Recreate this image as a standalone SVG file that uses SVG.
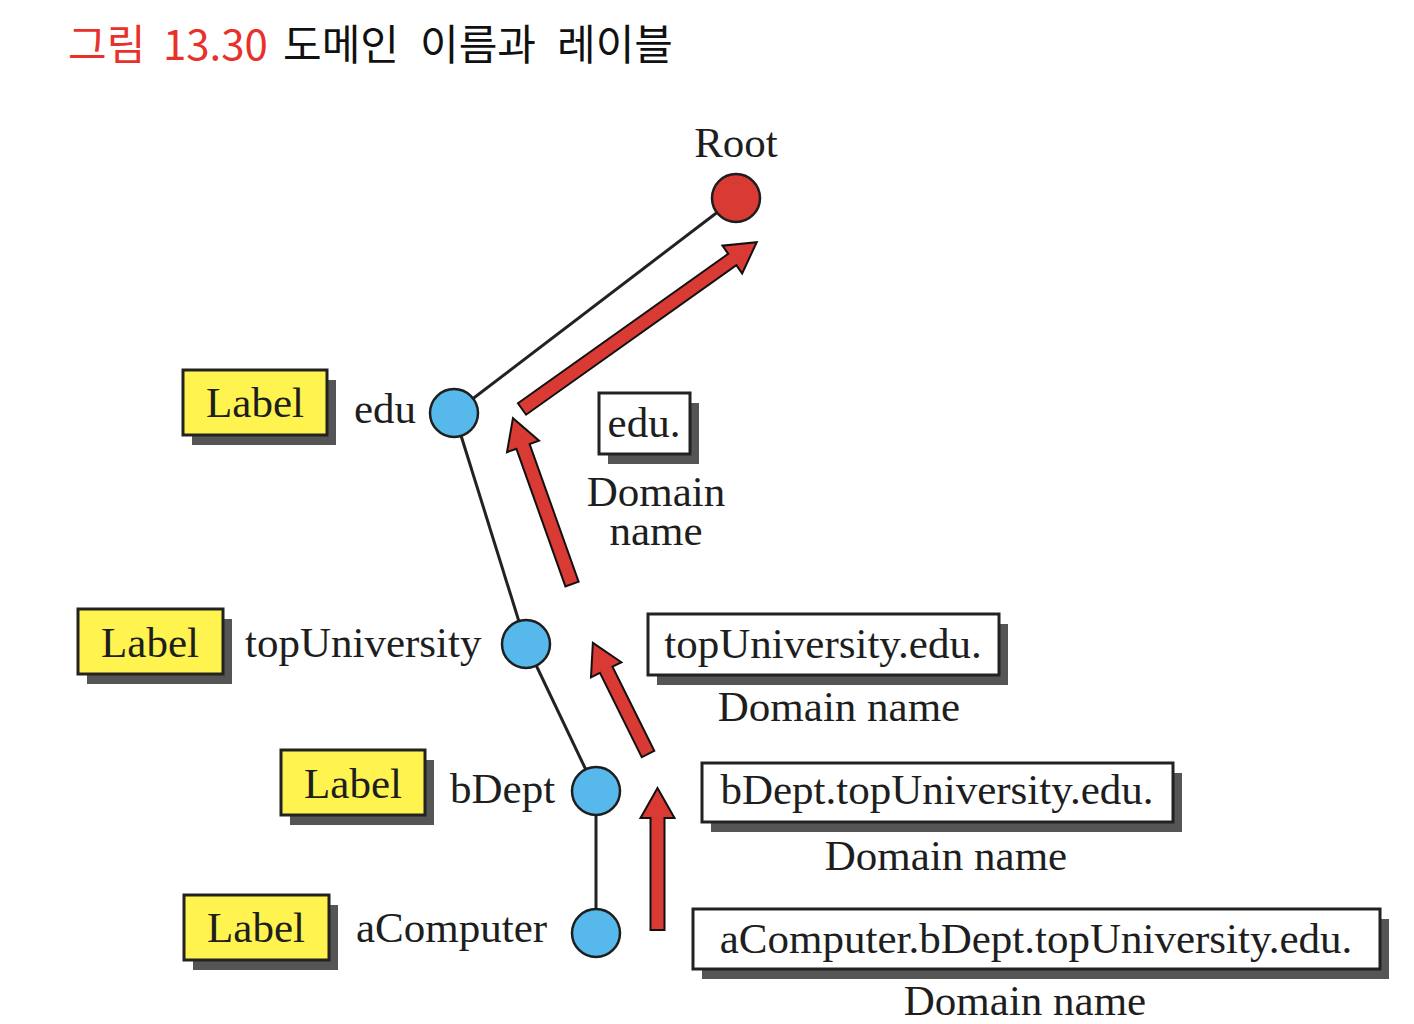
<svg xmlns="http://www.w3.org/2000/svg" width="1414" height="1024" viewBox="0 0 1414 1024">
<style>
.t{font-family:"Liberation Serif","Times New Roman",serif;font-size:43px;fill:#1e1e1e}
.m{text-anchor:middle}
.title{font-family:"Noto Sans CJK KR","Noto Sans",sans-serif;font-size:42px}
.edge{stroke:#222;stroke-width:3;fill:none}
.node{fill:#56b8eb;stroke:#1e1e1e;stroke-width:2.5}
.root{fill:#d93a34;stroke:#1e1e1e;stroke-width:2.5}
.arrow{fill:#d93a34;stroke:#111;stroke-width:2;stroke-linejoin:miter}
.sh{fill:#555}
.yb{fill:#fff44f;stroke:#222;stroke-width:3}
.wb{fill:#fff;stroke:#222;stroke-width:3}
</style>
<rect width="1414" height="1024" fill="#fff"/>
<g id="title">
<text class="title" x="68" y="60" fill="#e8312a">그림</text>
<text class="title" x="163" y="60" fill="#e8312a">13.30</text>
<text class="title" x="283" y="60" fill="#111">도메인</text>
<text class="title" x="420" y="60" fill="#111">이름과</text>
<text class="title" x="557" y="60" fill="#111">레이블</text>
</g>
<g id="connectors">
<line class="edge" x1="736" y1="198" x2="454" y2="413"/>
<line class="edge" x1="454" y1="413" x2="526" y2="644"/>
<line class="edge" x1="526" y1="644" x2="596" y2="791"/>
<line class="edge" x1="596" y1="791" x2="596" y2="933"/>
</g>
<g id="arrows">
<polygon class="arrow" points="0,-7 258,-7 258,-17 288,0 258,17 258,7 0,7" transform="translate(522,409) rotate(-35.4)"/>
<polygon class="arrow" points="0,-7 146,-7 146,-17 176,0 146,17 146,7 0,7" transform="translate(572,584) rotate(-109.6)"/>
<polygon class="arrow" points="0,-7 94,-7 94,-17 124,0 94,17 94,7 0,7" transform="translate(648,754) rotate(-116.4)"/>
<polygon class="arrow" points="0,-7 112,-7 112,-17 142,0 112,17 112,7 0,7" transform="translate(657.5,930) rotate(-90)"/>
</g>
<g id="node-root">
<circle class="root" cx="736" cy="198" r="24"/>
<text class="t m" x="736" y="157">Root</text>
</g>
<g id="node-edu">
<circle class="node" cx="454" cy="413" r="24"/>
<text class="t" x="354" y="423">edu</text>
<rect class="sh" x="192" y="380" width="144" height="65"/>
<rect class="yb" x="183" y="370" width="144" height="65"/>
<text class="t m" x="255" y="417">Label</text>
<rect class="sh" x="608" y="403" width="91" height="61"/>
<rect class="wb" x="599" y="393" width="91" height="61"/>
<text class="t m" x="644" y="437">edu.</text>
<text class="t m" x="656" y="506">Domain<tspan x="656" y="545">name</tspan></text>
</g>
<g id="node-topUniversity">
<circle class="node" cx="526" cy="644" r="24"/>
<text class="t" x="245" y="657">topUniversity</text>
<rect class="sh" x="87" y="619" width="145" height="65"/>
<rect class="yb" x="78" y="609" width="145" height="65"/>
<text class="t m" x="150" y="657">Label</text>
<rect class="sh" x="657" y="624" width="351" height="61"/>
<rect class="wb" x="648" y="614" width="351" height="61"/>
<text class="t m" x="823" y="658">topUniversity.edu.</text>
<text class="t m" x="839" y="721">Domain name</text>
</g>
<g id="node-bDept">
<circle class="node" cx="596" cy="791" r="24"/>
<text class="t" x="450" y="803">bDept</text>
<rect class="sh" x="290" y="760" width="144" height="65"/>
<rect class="yb" x="281" y="750" width="144" height="65"/>
<text class="t m" x="353" y="798">Label</text>
<rect class="sh" x="711" y="773" width="471" height="59"/>
<rect class="wb" x="702" y="763" width="471" height="59"/>
<text class="t m" x="937" y="804">bDept.topUniversity.edu.</text>
<text class="t m" x="946" y="870">Domain name</text>
</g>
<g id="node-aComputer">
<circle class="node" cx="596" cy="933" r="24"/>
<text class="t" x="356" y="942">aComputer</text>
<rect class="sh" x="193" y="905" width="145" height="65"/>
<rect class="yb" x="184" y="895" width="145" height="65"/>
<text class="t m" x="256" y="942">Label</text>
<rect class="sh" x="702" y="919" width="687" height="60"/>
<rect class="wb" x="693" y="909" width="687" height="60"/>
<text class="t m" x="1036" y="953">aComputer.bDept.topUniversity.edu.</text>
<text class="t m" x="1025" y="1015">Domain name</text>
</g>
</svg>
